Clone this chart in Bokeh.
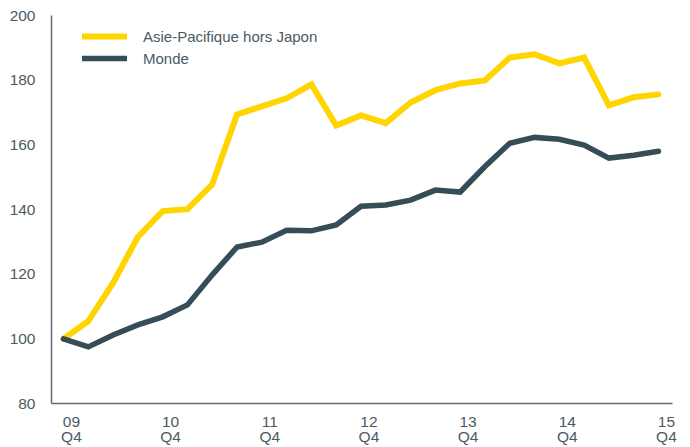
from bokeh.plotting import figure
from bokeh.models import Range1d, FixedTicker, Legend, LegendItem, LinearAxis
from bokeh.embed import file_html
from bokeh.resources import INLINE

quarters = list(range(25))
tick_years = ["09", "10", "11", "12", "13", "14", "15"]
tick_quarter = "Q4"
asia = [100, 105.5, 117.3, 131.5, 139.5, 140.1, 147.8, 169.4, 171.9, 174.4, 178.7,
        166.0, 169.1, 166.7, 173.1, 176.9, 179.0, 179.9, 187.0, 188.0, 185.2, 187.0,
        172.2, 174.7, 175.6]
world = [100, 97.5, 101.2, 104.3, 106.8, 110.5, 119.8, 128.4, 129.9, 133.6, 133.4,
         135.2, 141.0, 141.4, 142.9, 146.0, 145.4, 153.3, 160.5, 162.3, 161.7, 159.9,
         155.9, 156.8, 158.0]
names = ["Asie-Pacifique hors Japon", "Monde"]

FONT = "Liberation Sans"
TXT = "#4a5a64"
AX = "#5d6e77"
YEL = "#ffd500"
DARK = "#364c57"

p = figure(width=690, height=447, output_backend="svg", toolbar_location=None,
           x_range=Range1d(-0.484, 24.565), y_range=Range1d(80, 200),
           min_border_left=51, min_border_right=18, min_border_top=15, min_border_bottom=41,
           x_axis_location=None)
p.outline_line_color = None
p.grid.visible = False
p.background_fill_color = "white"

r1 = p.line(quarters, asia, line_color=YEL, line_width=6, line_cap="round", line_join="miter")
r2 = p.line(quarters, world, line_color=DARK, line_width=5.5, line_cap="round", line_join="miter")

tick_pos = [i * 4 + 0.32 for i in range(len(tick_years))]
ax1 = LinearAxis(ticker=FixedTicker(ticks=tick_pos),
                 major_label_overrides={t: y for t, y in zip(tick_pos, tick_years)})
ax2 = LinearAxis(ticker=FixedTicker(ticks=tick_pos),
                 major_label_overrides={t: tick_quarter for t in tick_pos})
p.add_layout(ax1, "below")
p.add_layout(ax2, "below")
p.yaxis.ticker = FixedTicker(ticks=[80, 100, 120, 140, 160, 180, 200])

for ax in (ax1, ax2, p.yaxis[0]):
    ax.axis_line_color = AX
    ax.axis_line_width = 1.5
    ax.major_tick_line_color = None
    ax.minor_tick_line_color = None
    ax.major_label_text_font = FONT
    ax.major_label_text_font_size = "15.5px"
    ax.major_label_text_color = TXT
ax2.axis_line_color = None
p.yaxis.major_label_standoff = 10
ax1.major_label_standoff = 7
ax2.major_label_standoff = -8

legend = Legend(items=[LegendItem(label=names[0], renderers=[r1]),
                       LegendItem(label=names[1], renderers=[r2])],
                location=(31, 335), padding=0, margin=0, spacing=2,
                glyph_width=45, glyph_height=20, label_height=20, label_standoff=16,
                label_text_font=FONT, label_text_font_size="15px", label_text_color=TXT,
                border_line_color=None, background_fill_alpha=0)
p.add_layout(legend)

open("out.html", "w").write(file_html(p, INLINE))
